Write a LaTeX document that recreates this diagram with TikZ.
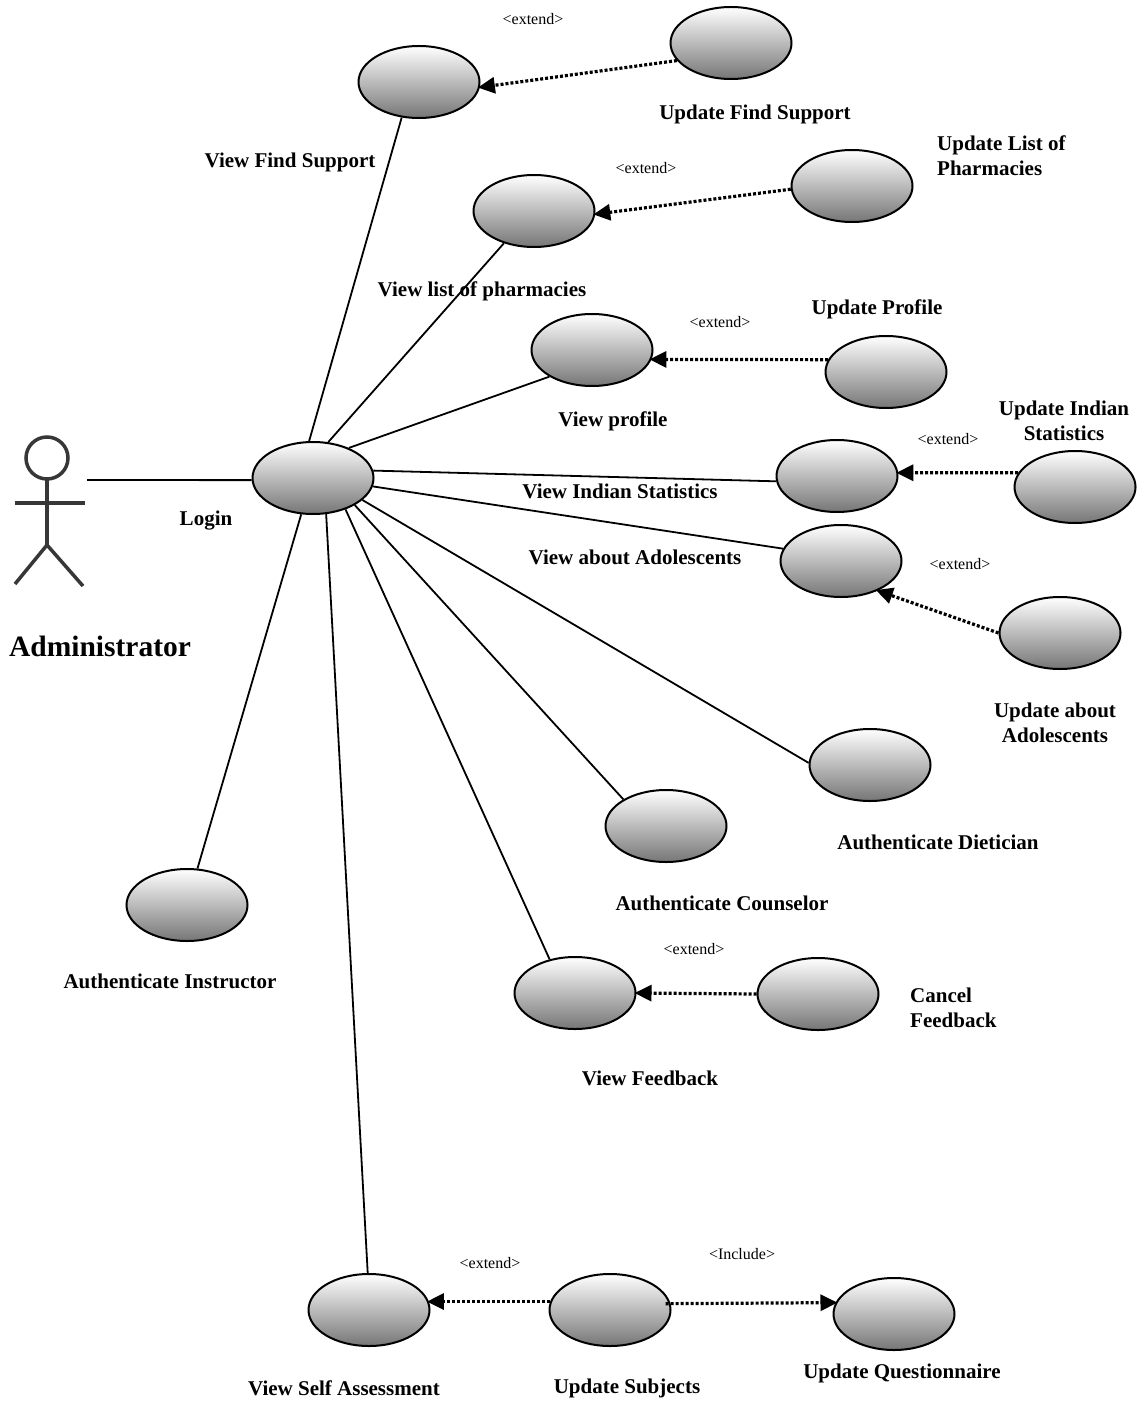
\documentclass[tikz,border=0pt]{standalone}
\usepackage{fontspec}
\setmainfont{Liberation Serif}
\usepackage{tikz}
\usetikzlibrary{positioning,shapes.geometric,arrows.meta}
\definecolor{ucgrey}{RGB}{118,118,118}
\definecolor{actorgrey}{RGB}{55,55,55}

\begin{document}
\begin{tikzpicture}[x=1pt,y=-1pt,
    usecase/.style={ellipse, draw, line width=2pt, inner sep=0pt,
      minimum width=121pt, minimum height=72pt,
      top color=white, bottom color=ucgrey},
    lbl/.style={font=\bfseries\fontsize{21}{25}\selectfont, inner sep=0pt},
    stereo/.style={font=\fontsize{16}{18}\selectfont, inner sep=0pt},
    assoc/.style={line width=1.8pt},
    ext/.style={line width=3.2pt, dash pattern=on 3pt off 2pt,
      -{Triangle[length=17pt,width=16pt]}, shorten >=-2pt}]
    \useasboundingbox (0,0) rectangle (1136,1404);
    % use cases
    \node[usecase] (vfs) at (419,82) {};
    \node[usecase] (ufs) at (731,43) {};
    \node[usecase] (vlp) at (534,211) {};
    \node[usecase] (ulp) at (852,186) {};
    \node[usecase] (vp) at (592,350) {};
    \node[usecase] (up) at (886,372) {};
    \node[usecase] (login) at (313,478) {};
    \node[usecase] (vis) at (837,476) {};
    \node[usecase] (uis) at (1075,487) {};
    \node[usecase] (vaa) at (841,561) {};
    \node[usecase] (uaa) at (1060,633) {};
    \node[usecase] (ad) at (870,765) {};
    \node[usecase] (ac) at (666,826) {};
    \node[usecase] (ai) at (187,905) {};
    \node[usecase] (vf) at (575,993) {};
    \node[usecase] (cf) at (818,994) {};
    \node[usecase] (vsa) at (369,1310) {};
    \node[usecase] (us) at (610,1310) {};
    \node[usecase] (uq) at (894,1314) {};
    % actor
    \begin{scope}[actorgrey, line width=3.5pt]
      \draw (47,458) circle (21);
      \draw (47,479) -- (47,545) (15,503) -- (85,503);
      \draw (15,584) -- (47,545) -- (83,586);
    \end{scope}
    \coordinate (hand) at (87,480);
    \draw[assoc] (hand) -- (login.182);
    % associations from login
    \foreach \a/\t/\b in {96/vfs/244, 67/vlp/227, 40/vp/212, 7/vis/185,
        -8/vaa/168, -24/ad/178, -33/ac/148, -44/vf/127, -70/vsa/92, -108/ai/74}
      \draw[assoc] (login.\a) -- (\t.\b);
    % extend / include
    \foreach \s/\sa/\t/\ta in {ufs/198/vfs/355, ulp/183/vlp/357, up/168/vp/351,
        uis/166/vis/3, uaa/180/vaa/321, cf/180/vf/0, us/172/vsa/8}
      \draw[ext] (\s.\sa) -- (\t.\ta);
    \draw[ext, shorten <=-5pt] (us.6) -- (uq.169);
    % labels
    \node[stereo] (x1) at (533,19) {\textless extend\textgreater};
    \node[stereo] (x2) at (646,168) {\textless extend\textgreater};
    \node[stereo] (x3) at (720,322) {\textless extend\textgreater};
    \node[stereo] (x4) at (948,439) {\textless extend\textgreater};
    \node[stereo] (x5) at (960,564) {\textless extend\textgreater};
    \node[stereo] (x6) at (694,949) {\textless extend\textgreater};
    \node[stereo] (x7) at (490,1263) {\textless extend\textgreater};
    \node[stereo] (i1) at (742,1254) {\textless Include\textgreater};
    \node[lbl] (lvfs) at (290,162) {View Find Support};
    \node[lbl] (lufs) at (755,114) {Update Find Support};
    \node[lbl, align=left, anchor=west] (lulp) at (937,156) {Update List of\\Pharmacies};
    \node[lbl] (lvlp) at (482,291) {View list of pharmacies};
    \node[lbl] (lup) at (877,309) {Update Profile};
    \node[lbl] (lvp) at (613,421) {View profile};
    \node[lbl, align=center] (luis) at (1064,421) {Update Indian\\Statistics};
    \node[lbl] (lvis) at (620,491) {View Indian Statistics};
    \node[lbl] (llogin) at (206,521) {Login};
    \node[lbl, font=\bfseries\fontsize{29.5}{32}\selectfont] (ladmin) at (100,646) {Administrator};
    \node[lbl] (lvaa) at (635,557) {View about Adolescents};
    \node[lbl, align=center] (luaa) at (1055,723) {Update about\\Adolescents};
    \node[lbl] (lad) at (938,842) {Authenticate Dietician};
    \node[lbl] (lac) at (722,903) {Authenticate Counselor};
    \node[lbl] (lai) at (170,981) {Authenticate Instructor};
    \node[lbl, align=left, anchor=west] (lcf) at (910,1008) {Cancel\\Feedback};
    \node[lbl] (lvf) at (650,1078) {View Feedback};
    \node[lbl] (lvsa) at (344,1388) {View Self Assessment};
    \node[lbl] (lus) at (627,1388) {Update Subjects};
    \node[lbl] (luq) at (902,1373) {Update Questionnaire};
\end{tikzpicture}
\end{document}
